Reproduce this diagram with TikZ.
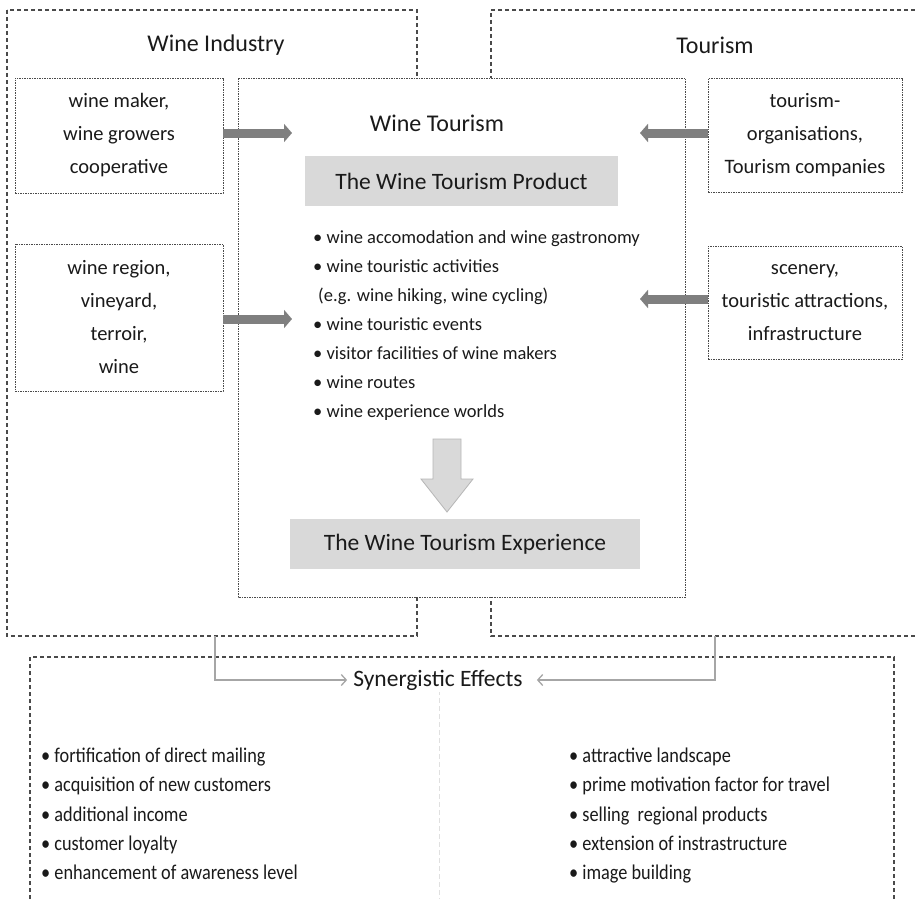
\documentclass[tikz,border=0pt]{standalone}
\usepackage{fontspec}
\setmainfont{Carlito}
\usetikzlibrary{arrows.meta}
\definecolor{ink}{HTML}{1A1A1A}
\definecolor{frame}{HTML}{4A4A4A}
\definecolor{boxgray}{HTML}{D9D9D9}
\definecolor{arrowgray}{HTML}{7F7F7F}
\definecolor{thin}{HTML}{A6A6A6}
\tikzset{
  outerframe/.style={draw=frame, line width=1.1pt, dash pattern=on 4pt off 3pt},
  innerframe/.style={draw=frame, line width=0.9pt, dash pattern=on 1.5pt off 1pt},
  sidebox/.style={innerframe, fill=white, align=center, inner sep=0pt,
    font=\fontsize{20.5}{33}\selectfont, text=ink},
  headline/.style={font=\fontsize{24}{28}\selectfont, text=ink, inner sep=0pt},
  graybox/.style={fill=boxgray, text=ink, font=\fontsize{23.5}{28}\selectfont, inner sep=0pt},
  feedarrow/.style={draw=arrowgray, line width=9pt, -{Triangle[length=8pt,width=18pt]}},
  effectarrow/.style={draw=thin, line width=1.3pt, -{Straight Barb[length=5pt,width=11pt]}},
  bulletlist/.style={align=left, inner sep=0pt, text=ink, anchor=north west},
}
\begin{document}
\begin{tikzpicture}[x=1pt, y=-1pt]
\useasboundingbox (0,0) rectangle (915,899);
\fill[white] (0,0) rectangle (915,899);

% outer sectors
\draw[outerframe] (7,10) rectangle (417,636);
\draw[outerframe] (915,10) -- (491,10) -- (491,636) -- (915,636);
\node[headline] (wi) at (216,45) {Wine Industry};
\node[headline] (tou) at (715,45) {Tourism};

% wine tourism core
\draw[innerframe, fill=white] (238,78) rectangle (685,597);
\node[headline] (wt) at (437,123) {Wine Tourism};
\node[graybox, minimum width=313pt, minimum height=50pt] (prod) at (461.5,181) {The Wine Tourism Product};
\node[bulletlist, font=\fontsize{18.5}{29}\selectfont] (plist) at (313,230.5)
  {• wine accomodation and wine gastronomy\\
   • wine touristic activities\\
   \hspace*{5pt}(e.g. wine hiking, wine cycling)\\
   • wine touristic events\\
   • visitor facilities of wine makers\\
   • wine routes\\
   • wine experience worlds};
\node[graybox, minimum width=350pt, minimum height=50pt] (exp) at (465,544) {The Wine Tourism Experience};
\draw[draw=boxgray!80!black!90, fill=boxgray, line width=0.8pt]
  (433,439) -- (461,439) -- (461,479) -- (473,479) -- (447,512) -- (421,479) -- (433,479) -- cycle;

% supply side boxes
\node[sidebox, minimum width=208pt, minimum height=115pt] (lb1) at (119,135.5)
  {wine maker,\\wine growers\\cooperative};
\node[sidebox, minimum width=208pt, minimum height=147pt] (lb2) at (119,317.5)
  {wine region,\\vineyard,\\terroir,\\wine};
\node[sidebox, minimum width=194pt, minimum height=114pt] (rb1) at (805,135)
  {tourism-\\organisations,\\Tourism companies};
\node[sidebox, minimum width=194pt, minimum height=113pt] (rb2) at (805,302.5)
  {scenery,\\touristic attractions,\\infrastructure};

\coordinate (la1) at (292,133);
\coordinate (la2) at (292,319);
\coordinate (ra1) at (640,133);
\coordinate (ra2) at (640,299);
\draw[feedarrow] (lb1.east |- la1) -- (la1);
\draw[feedarrow] (lb2.east |- la2) -- (la2);
\draw[feedarrow] (rb1.west |- ra1) -- (ra1);
\draw[feedarrow] (rb2.west |- ra2) -- (ra2);

% synergistic effects
\draw[outerframe] (30,899) -- (30,657) -- (894,657) -- (894,899);
\draw[draw=black!12, line width=0.9pt, dash pattern=on 5pt off 3pt] (439,690) -- (439,899);
\node[headline, font=\fontsize{23.5}{28}\selectfont, fill=white, inner xsep=6pt, inner ysep=2pt] (syn) at (438,680) {Synergistic Effects};
\coordinate (wib) at (215,636);
\coordinate (tob) at (715,636);
\draw[effectarrow] (wib) |- (syn.west);
\draw[effectarrow, shorten >=8pt] (tob) |- (syn.east);

\node[bulletlist, font=\addfontfeature{FakeStretch=0.87}\fontsize{21}{29.2}\selectfont] (leff) at (41,748)
  {• fortification of direct mailing\\
   • acquisition of new customers\\
   • additional income\\
   • customer loyalty\\
   • enhancement of awareness level};
\node[bulletlist, font=\addfontfeature{FakeStretch=0.87}\fontsize{21}{29.2}\selectfont] (reff) at (569,748)
  {• attractive landscape\\
   • prime motivation factor for travel\\
   • selling\ \ regional products\\
   • extension of instrastructure\\
   • image building};
\end{tikzpicture}
\end{document}
